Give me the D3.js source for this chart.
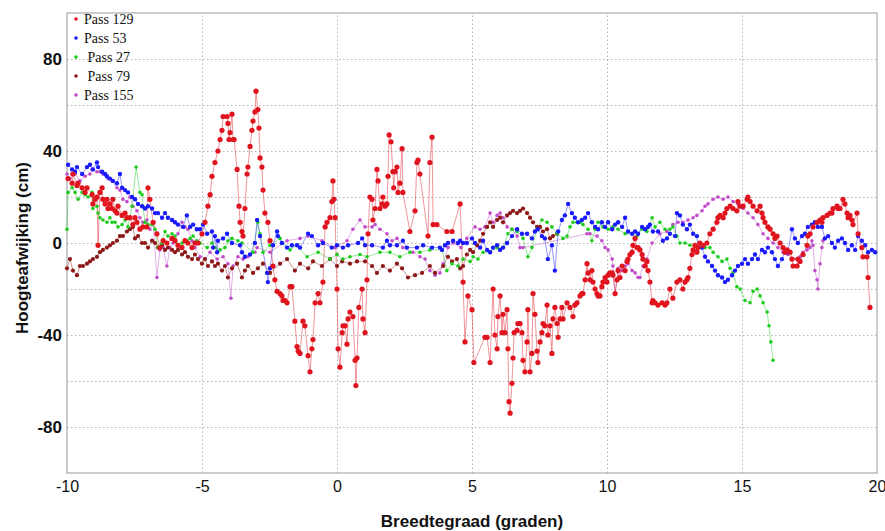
<!DOCTYPE html>
<html>
<head>
<meta charset="utf-8">
<script src="https://cdn.jsdelivr.net/npm/d3@7/dist/d3.min.js"></script>
<style>
  html, body { margin: 0; padding: 0; background: #ffffff; }
  svg { display: block; }
</style>
</head>
<body>
<svg id="chart" width="885" height="531"></svg>
<script>
// ---------------- DATA ----------------
const seriesNames = ["Pass 129", "Pass 53", " Pass 27", " Pass 79", "Pass 155"];
const xTickValues = [-10, -5, 0, 5, 10, 15, 20];
const yTickValues = [-80, -40, 0, 40, 80];
const yGridValues = [-80, -60, -40, -20, 0, 20, 40, 60, 80];
const xTitle = "Breedtegraad (graden)";
const yTitle = "Hoogteafwijking (cm)";

const pass129 = [[-9.96,28],[-9.81,26],[-9.78,30],[-9.63,25],[-9.59,26],[-9.44,24],[-9.33,22],[-9.26,24],[-9.07,21],[-9.04,17],[-8.96,19],[-8.89,20],[-8.85,-1],[-8.78,22],[-8.70,24],[-8.67,19],[-8.59,17],[-8.52,19],[-8.48,15],[-8.41,17],[-8.33,15],[-8.30,19],[-8.22,14],[-8.15,13],[-8.11,16],[-7.96,12],[-7.85,13],[-7.78,11],[-7.67,11],[-7.56,8],[-7.48,11],[-7.41,9],[-7.30,6],[-7.19,7],[-7.04,7],[-7.00,24],[-6.93,19],[-6.81,9],[-6.67,4],[-6.56,-2],[-6.44,1],[-6.30,0],[-6.11,2],[-6.00,1],[-5.89,-1],[-5.74,-2],[-5.63,1],[-5.52,0],[-5.37,-2],[-5.26,0],[-5.15,0],[-5.00,4],[-4.89,9],[-4.78,16],[-4.70,21],[-4.63,29],[-4.52,35],[-4.41,40],[-4.33,45],[-4.26,49],[-4.22,55],[-4.07,55],[-4.04,52],[-4.00,45],[-3.96,48],[-3.89,56],[-3.85,45],[-3.81,45],[-3.70,32],[-3.63,16],[-3.59,9],[-3.52,5],[-3.48,3],[-3.41,15],[-3.33,30],[-3.30,33],[-3.22,42],[-3.15,49],[-3.11,53],[-3.04,57],[-3.00,66],[-2.93,58],[-2.89,50],[-2.85,37],[-2.78,33],[-2.74,23],[-2.67,13],[-2.56,9],[-2.48,1],[-2.37,-10],[-2.30,-16],[-2.22,-21],[-2.11,-22],[-2.04,-23],[-2.00,-25],[-1.93,-25],[-1.85,-26],[-1.74,-19],[-1.67,-19],[-1.56,-34],[-1.48,-45],[-1.44,-47],[-1.37,-48],[-1.26,-34],[-1.19,-36],[-1.07,-49],[-1.00,-56],[-0.93,-46],[-0.89,-42],[-0.81,-26],[-0.70,-22],[-0.63,-26],[-0.52,-17],[-0.44,7],[-0.37,9],[-0.26,11],[-0.19,18],[-0.15,27],[-0.11,19],[-0.07,11],[0.00,-20],[0.04,-46],[0.11,-54],[0.19,-39],[0.22,-36],[0.30,-36],[0.37,-44],[0.41,-33],[0.48,-30],[0.59,-32],[0.67,-51],[0.70,-62],[0.74,-50],[0.81,-28],[0.93,-20],[0.96,-33],[1.04,-39],[1.11,-16],[1.15,4],[1.22,20],[1.30,19],[1.33,10],[1.41,15],[1.48,32],[1.52,27],[1.59,15],[1.67,17],[1.70,20],[1.78,16],[1.85,17],[1.89,29],[1.93,47],[2.00,44],[2.07,31],[2.10,24],[2.15,31],[2.22,33],[2.26,22],[2.33,26],[2.41,41],[2.44,22],[2.70,5],[2.89,14],[2.96,35],[3.00,36],[3.07,30],[3.37,3],[3.44,35],[3.52,46],[3.56,8],[3.70,8],[4.07,5],[4.26,5],[4.56,17],[4.67,-17],[4.74,-43],[4.85,-23],[5.00,-29],[5.07,-52],[5.48,-41],[5.56,-41],[5.67,-52],[5.78,-20],[5.85,-40],[5.93,-46],[5.96,-32],[6.04,-23],[6.11,-39],[6.15,-31],[6.22,-39],[6.30,-29],[6.33,-46],[6.37,-69],[6.41,-74],[6.48,-61],[6.52,-50],[6.56,-39],[6.67,-38],[6.70,-35],[6.78,-35],[6.85,-39],[6.89,-51],[6.96,-56],[7.04,-43],[7.07,-29],[7.15,-56],[7.22,-48],[7.26,-22],[7.33,-31],[7.41,-47],[7.44,-52],[7.52,-43],[7.59,-39],[7.63,-35],[7.70,-36],[7.78,-27],[7.81,-40],[7.89,-36],[7.96,-48],[8.00,-33],[8.07,-28],[8.15,-35],[8.19,-41],[8.26,-33],[8.33,-28],[8.37,-33],[8.52,-26],[8.63,-28],[8.74,-32],[8.81,-27],[8.89,-26],[9.00,-23],[9.07,-22],[9.11,-22],[9.19,-16],[9.26,-9],[9.30,-13],[9.37,-16],[9.44,-12],[9.48,-17],[9.56,-20],[9.63,-22],[9.67,-23],[9.74,-23],[9.81,-19],[9.85,-17],[9.93,-15],[10.00,-17],[10.04,-14],[10.11,-13],[10.19,-13],[10.22,-14],[10.30,-22],[10.37,-16],[10.41,-12],[10.48,-15],[10.56,-10],[10.67,-12],[10.74,-8],[10.78,-7],[10.85,-5],[10.93,-4],[10.96,-1],[11.04,2],[11.11,-2],[11.15,-2],[11.22,-3],[11.30,-5],[11.33,-7],[11.41,-10],[11.48,-8],[11.52,-12],[11.59,-17],[11.67,-26],[11.70,-25],[11.78,-26],[11.89,-27],[12.04,-26],[12.15,-27],[12.22,-26],[12.33,-20],[12.44,-24],[12.59,-17],[12.70,-16],[12.81,-20],[12.89,-17],[12.96,-16],[13.00,-15],[13.07,-11],[13.15,-5],[13.19,-3],[13.26,-1],[13.33,-4],[13.37,-2],[13.44,0],[13.56,-1],[13.70,0],[13.81,4],[13.93,6],[14.07,9],[14.11,11],[14.19,12],[14.30,11],[14.37,13],[14.44,15],[14.56,16],[14.67,15],[14.81,14],[14.85,18],[14.93,16],[15.04,16],[15.19,19],[15.22,20],[15.30,18],[15.41,16],[15.56,14],[15.67,16],[15.74,13],[15.78,11],[15.85,9],[15.96,7],[16.04,6],[16.15,4],[16.22,2],[16.30,3],[16.41,0],[16.52,-2],[16.59,-4],[16.67,-3],[16.78,-4],[16.85,-7],[16.89,-10],[17.04,-10],[17.07,-7],[17.15,-8],[17.26,-5],[17.41,-1],[17.44,3],[17.52,4],[17.63,7],[17.78,9],[17.89,10],[17.96,9],[18.00,11],[18.15,12],[18.26,13],[18.33,13],[18.37,15],[18.52,16],[18.56,15],[18.63,15],[18.74,19],[18.81,17],[18.89,13],[18.93,11],[19.00,12],[19.07,10],[19.11,8],[19.26,13],[19.30,4],[19.44,-2],[19.48,-6],[19.63,-6],[19.67,-15],[19.74,-28]];

const pass53 = [[-9.96,34],[-9.81,32],[-9.70,31],[-9.63,33],[-9.44,30],[-9.26,33],[-9.15,34],[-9.04,32],[-8.89,35],[-8.85,33],[-8.70,31],[-8.59,30],[-8.52,29],[-8.41,28],[-8.30,27],[-8.15,26],[-8.04,30],[-7.96,24],[-7.85,23],[-7.74,22],[-7.59,20],[-7.48,19],[-7.37,17],[-7.22,16],[-7.11,15],[-7.00,16],[-6.85,15],[-6.74,13],[-6.63,13],[-6.48,11],[-6.37,13],[-6.26,11],[-6.11,10],[-6.00,9],[-5.89,8],[-5.70,7],[-5.56,12],[-5.44,7],[-5.33,8],[-5.19,6],[-5.07,6],[-4.96,8],[-4.81,4],[-4.63,5],[-4.59,-2],[-4.52,3],[-4.44,-4],[-4.41,1],[-4.22,2],[-4.07,4],[-3.89,0],[-3.59,-1],[-3.52,-4],[-3.41,-6],[-3.22,-5],[-3.04,0],[-2.96,10],[-2.85,3],[-2.59,-13],[-2.56,-17],[-2.48,-11],[-2.37,-1],[-2.22,5],[-2.19,3],[-2.04,0],[-1.85,-2],[-1.67,-1],[-1.48,-1],[-1.37,-2],[-1.07,4],[-0.93,3],[-0.70,-1],[-0.52,0],[-0.19,-2],[0.00,-1],[0.22,-2],[0.41,-1],[0.78,0],[0.93,2],[1.04,-1],[1.30,-1],[1.70,-2],[1.85,1],[1.96,-1],[2.22,-1],[2.44,1],[2.59,-2],[2.96,-2],[3.19,-1],[3.52,-2],[3.81,-2],[3.89,-3],[4.00,-1],[4.11,0],[4.30,1],[4.48,0],[4.56,1],[4.67,0],[4.81,0],[5.00,2],[5.11,0],[5.30,-2],[5.41,1],[5.56,-3],[5.67,-4],[5.78,-2],[5.93,-1],[6.04,-3],[6.15,-2],[6.30,0],[6.48,3],[6.67,6],[6.85,4],[7.04,4],[7.22,2],[7.33,5],[7.44,6],[7.59,3],[7.70,2],[7.81,-7],[7.96,-1],[8.07,-12],[8.19,5],[8.33,10],[8.44,12],[8.56,17],[8.70,13],[8.81,11],[8.93,9],[9.07,10],[9.19,11],[9.30,13],[9.44,9],[9.56,7],[9.67,6],[9.81,9],[9.93,7],[10.04,9],[10.19,6],[10.30,8],[10.41,9],[10.56,7],[10.67,11],[10.78,5],[10.93,4],[11.04,5],[11.15,4],[11.30,7],[11.41,6],[11.52,7],[11.59,8],[11.70,5],[11.89,5],[12.07,1],[12.22,2],[12.33,4],[12.52,3],[12.59,13],[12.70,12],[12.81,8],[12.96,6],[13.07,8],[13.19,4],[13.33,3],[13.37,-2],[13.52,-2],[13.63,-6],[13.74,-8],[13.89,-10],[14.00,-12],[14.11,-14],[14.26,-15],[14.37,-17],[14.48,-16],[14.63,-14],[14.74,-12],[14.85,-10],[15.00,-9],[15.11,-7],[15.22,-9],[15.37,-7],[15.48,-5],[15.59,-7],[15.74,-3],[15.85,-4],[15.96,-2],[16.11,-4],[16.22,-7],[16.33,-10],[16.48,-7],[16.59,-4],[16.70,-4],[16.85,6],[16.96,2],[17.07,0],[17.22,3],[17.33,4],[17.44,7],[17.59,8],[17.70,9],[17.81,7],[17.96,7],[18.07,2],[18.19,3],[18.33,0],[18.44,-2],[18.56,1],[18.70,2],[18.81,0],[18.93,-3],[19.07,-1],[19.19,-3],[19.30,3],[19.44,1],[19.56,-1],[19.67,-4],[19.81,-3],[19.93,-4]];

const pass27 = [[-10.00,6],[-9.96,22],[-9.81,24],[-9.70,22],[-9.59,19],[-9.44,22],[-9.33,21],[-9.22,20],[-9.07,22],[-9.04,15],[-8.89,16],[-8.85,13],[-8.78,11],[-8.67,10],[-8.52,9],[-8.41,11],[-8.33,9],[-8.22,9],[-8.11,7],[-7.96,8],[-7.85,10],[-7.74,7],[-7.59,16],[-7.44,33],[-7.30,22],[-7.22,21],[-7.19,16],[-7.11,9],[-7.00,8],[-6.85,8],[-6.74,6],[-6.63,-2],[-6.48,0],[-6.37,5],[-6.26,3],[-6.11,4],[-6.00,3],[-5.89,-1],[-5.74,0],[-5.56,1],[-5.44,2],[-5.33,3],[-5.19,1],[-5.07,0],[-4.81,-2],[-4.63,0],[-4.52,-2],[-4.33,-3],[-4.15,-2],[-4.04,1],[-3.89,2],[-3.67,1],[-3.52,0],[-3.11,-4],[-2.93,9],[-2.85,4],[-2.74,-4],[-2.48,-1],[-2.11,2],[-1.74,-3],[-1.48,-1],[-1.11,-6],[-0.70,-4],[-0.26,-7],[0.00,-5],[0.22,-7],[0.48,-6],[0.85,-5],[1.11,-6],[1.59,-4],[1.96,-4],[2.33,-6],[2.70,-4],[3.07,-4],[3.44,-3],[3.89,-3],[4.07,-12],[4.26,-9],[4.48,-10],[4.67,-7],[4.93,-8],[5.04,-6],[5.22,-7],[5.41,-4],[5.67,-4],[5.93,-2],[6.15,-2],[6.33,4],[6.48,6],[6.67,5],[6.89,2],[7.07,-6],[7.22,-2],[7.41,6],[7.59,10],[7.78,9],[7.96,7],[8.15,4],[8.37,2],[8.52,3],[8.63,7],[8.74,9],[8.89,9],[9.00,9],[9.11,8],[9.30,6],[9.44,1],[9.56,6],[9.67,9],[9.85,7],[10.04,6],[10.22,7],[10.41,6],[10.67,4],[10.93,4],[11.11,3],[11.30,6],[11.48,5],[11.67,11],[11.78,7],[11.96,9],[12.15,6],[12.33,6],[12.44,7],[12.59,3],[12.70,0],[12.89,0],[13.07,-1],[13.26,-1],[13.44,-2],[13.63,-2],[13.81,-2],[13.93,-4],[14.11,-6],[14.26,-8],[14.44,-7],[14.56,-11],[14.67,-13],[14.81,-19],[14.93,-20],[15.11,-25],[15.30,-26],[15.41,-21],[15.56,-20],[15.67,-23],[15.78,-26],[15.93,-30],[16.00,-36],[16.07,-43],[16.15,-51]];

const pass79 = [[-10.00,-11],[-9.89,-7],[-9.78,-12],[-9.63,-14],[-9.52,-10],[-9.41,-10],[-9.26,-9],[-9.15,-8],[-9.04,-7],[-8.89,-6],[-8.78,-4],[-8.67,-3],[-8.52,-2],[-8.41,-1],[-8.30,0],[-8.15,1],[-8.04,3],[-7.93,3],[-7.78,5],[-7.67,6],[-7.56,7],[-7.48,2],[-7.37,3],[-7.22,0],[-7.11,0],[-7.00,-2],[-6.85,1],[-6.74,0],[-6.63,-2],[-6.48,-1],[-6.37,-3],[-6.26,-2],[-6.11,-3],[-6.00,-4],[-5.89,-3],[-5.74,-5],[-5.63,-4],[-5.52,-6],[-5.37,-7],[-5.26,-5],[-5.15,-7],[-5.00,-9],[-4.89,-7],[-4.78,-10],[-4.63,-8],[-4.52,-10],[-4.41,-9],[-4.26,-12],[-4.15,-10],[-4.04,-15],[-3.89,-11],[-3.70,-9],[-3.52,-15],[-3.41,-12],[-3.30,-10],[-3.11,-13],[-2.93,-11],[-2.74,-9],[-2.48,-13],[-2.11,-9],[-1.85,-7],[-1.56,-12],[-1.37,-9],[-1.07,-11],[-0.89,-8],[-0.56,-10],[-0.26,-7],[0.00,-10],[0.19,-8],[0.48,-9],[0.74,-8],[1.04,-8],[1.30,-10],[1.48,-13],[1.70,-10],[1.96,-12],[2.22,-9],[2.41,-11],[2.63,-15],[2.89,-14],[3.15,-13],[3.44,-10],[3.63,-13],[3.93,-10],[4.11,-6],[4.26,-8],[4.44,-7],[4.56,-11],[4.67,-10],[4.81,-5],[4.93,-3],[5.04,-4],[5.19,-1],[5.30,1],[5.41,4],[5.56,7],[5.67,9],[5.78,7],[5.93,10],[6.04,11],[6.15,9],[6.30,12],[6.41,13],[6.52,14],[6.67,13],[6.78,14],[6.89,15],[7.04,13],[7.15,11],[7.26,9],[7.41,7],[7.52,7],[7.63,5],[7.78,6],[7.89,2],[8.00,3],[8.15,4]];

const pass155 = [[-10.00,30],[-9.89,28],[-9.70,30],[-9.52,27],[-9.33,29],[-9.15,30],[-9.07,32],[-8.89,31],[-8.78,31],[-8.67,30],[-8.48,28],[-8.33,27],[-8.15,24],[-8.04,23],[-7.93,19],[-7.78,18],[-7.67,20],[-7.56,16],[-7.41,14],[-7.30,11],[-7.19,9],[-7.04,10],[-6.93,6],[-6.81,9],[-6.67,-15],[-6.56,-3],[-6.44,-2],[-6.30,-10],[-6.19,-2],[-6.07,0],[-5.89,4],[-5.74,9],[-5.63,7],[-5.52,6],[-5.37,1],[-5.26,-2],[-5.07,-6],[-4.89,-7],[-4.70,-4],[-4.44,-7],[-4.22,-6],[-4.04,-9],[-3.93,-24],[-3.85,-10],[-3.67,-6],[-3.48,-7],[-3.30,-6],[-3.04,-4],[-2.96,-2],[-2.48,-4],[-1.85,1],[-1.37,2],[-1.07,3],[-0.56,1],[-0.07,-2],[0.37,1],[0.59,6],[0.85,10],[1.04,7],[1.30,7],[1.41,8],[1.59,6],[1.85,4],[2.04,1],[2.22,2],[2.44,-2],[2.81,-4],[3.07,-6],[3.26,-7],[3.44,-12],[3.63,-14],[3.81,-13],[3.93,-9],[4.11,-2],[4.30,0],[4.59,-2],[4.81,2],[5.11,7],[5.30,6],[5.48,7],[5.67,13],[5.78,9],[5.93,12],[6.04,13],[6.15,11],[6.30,7],[6.48,6],[6.67,3],[6.78,-2],[6.89,-2],[9.26,4],[9.37,4],[9.63,3],[9.81,1],[9.93,-2],[10.04,-3],[10.19,-7],[10.22,-10],[10.30,-22],[10.41,-11],[10.56,-12],[10.67,-10],[10.78,-9],[10.93,-12],[11.04,-13],[11.15,-15],[11.22,-15],[11.33,-10],[11.48,-7],[11.67,0],[11.96,4],[12.22,5],[12.44,8],[12.63,9],[12.81,9],[13.00,10],[13.19,11],[13.33,12],[13.52,14],[13.63,16],[13.74,17],[13.93,19],[14.11,20],[14.30,19],[14.48,20],[14.67,18],[14.85,17],[15.04,15],[15.22,13],[15.41,11],[15.59,8],[15.78,4],[15.96,2],[16.15,0],[16.33,-2],[16.52,-4],[16.70,-5],[16.89,-7],[17.04,-7],[17.15,-6],[17.26,-4],[17.41,-3],[17.52,-2],[17.59,1],[17.63,-1],[17.70,-12],[17.78,-16],[17.81,-20],[17.89,-9],[17.96,-2],[18.00,1]];

// ---------------- CHART ----------------
const series = [
  { name: seriesNames[4], data: pass155, color: "#c04cc8", r: 1.8 },
  { name: seriesNames[3], data: pass79,  color: "#8e1818", r: 2.1 },
  { name: seriesNames[2], data: pass27,  color: "#1ccc1c", r: 1.8 },
  { name: seriesNames[1], data: pass53,  color: "#1a1aff", r: 2.2 },
  { name: seriesNames[0], data: pass129, color: "#e0141e", r: 2.6 }
];
const legendOrder = [4, 3, 2, 1, 0];
const plainFmt = d => String(d);

const svg = d3.select("#chart");
const L = 67, R = 877, T = 13, B = 473;
const x = d3.scaleLinear().domain([-10, 20]).range([L, R]);
const y = d3.scaleLinear().domain([-100, 100]).range([B, T]);

// grid
const grid = svg.append("g");
grid.append("g")
  .attr("transform", `translate(0,${B})`)
  .call(d3.axisBottom(x).tickValues(xTickValues.slice(1, -1)).tickSize(-(B - T)).tickFormat(""))
  .call(g => g.select(".domain").remove())
  .call(g => g.selectAll("line").attr("stroke", "#b4b4b4").attr("stroke-dasharray", "1.5,2.5"));
grid.append("g")
  .attr("transform", `translate(${L},0)`)
  .call(d3.axisLeft(y).tickValues(yGridValues).tickSize(-(R - L)).tickFormat(""))
  .call(g => g.select(".domain").remove())
  .call(g => g.selectAll("line").attr("stroke", "#b4b4b4").attr("stroke-dasharray", "1.5,2.5"));

// frame
svg.append("rect").attr("x", L).attr("y", T).attr("width", R - L).attr("height", B - T)
  .attr("fill", "none").attr("stroke", "#9a9a9a").attr("stroke-width", 1);

// tick labels
svg.append("g")
  .attr("transform", `translate(0,${B})`)
  .call(d3.axisBottom(x).tickValues(xTickValues).tickFormat(plainFmt).tickSize(0).tickPadding(8))
  .call(g => g.select(".domain").remove())
  .call(g => g.selectAll("text").attr("fill", "#111").style("font-family", "Liberation Sans, Arial, sans-serif").style("font-size", "16px"));
svg.append("g")
  .attr("transform", `translate(${L},0)`)
  .call(d3.axisLeft(y).tickValues(yTickValues).tickFormat(plainFmt).tickSize(0).tickPadding(5))
  .call(g => g.select(".domain").remove())
  .call(g => g.selectAll("text").attr("fill", "#111").style("font-family", "Liberation Sans, Arial, sans-serif").style("font-size", "17px").style("font-weight", "bold"));

// data
const line = d3.line().x(d => x(d[0])).y(d => y(d[1]));
const plot = svg.append("g");
series.forEach(s => {
  plot.append("path").datum(s.data).attr("d", line)
    .attr("fill", "none").attr("stroke", s.color).attr("stroke-opacity", 0.45).attr("stroke-width", 1);
});
series.forEach(s => {
  plot.append("g").selectAll("circle").data(s.data).join("circle")
    .attr("cx", d => x(d[0])).attr("cy", d => y(d[1])).attr("r", s.r).attr("fill", s.color);
});

// legend
const leg = svg.append("g");
legendOrder.forEach((si, i) => {
  const s = series[si];
  const cy = 19 + i * 19;
  leg.append("circle").attr("cx", 76).attr("cy", cy).attr("r", 1.8).attr("fill", s.color);
  leg.append("text").attr("x", 84).attr("y", cy + 5).text(s.name)
    .attr("xml:space", "preserve").style("white-space", "pre")
    .style("font-family", "Liberation Serif, Times New Roman, serif").style("font-size", "14px").attr("fill", "#111");
});

// axis titles
svg.append("text").attr("x", 472).attr("y", 527).attr("text-anchor", "middle").text(xTitle)
  .style("font-family", "Liberation Sans, Arial, sans-serif").style("font-size", "17px").style("font-weight", "bold").attr("fill", "#111");
svg.append("text").attr("transform", "translate(28,248) rotate(-90)").attr("text-anchor", "middle").text(yTitle)
  .style("font-family", "Liberation Sans, Arial, sans-serif").style("font-size", "17px").style("font-weight", "bold").attr("fill", "#111");
</script>
</body>
</html>
